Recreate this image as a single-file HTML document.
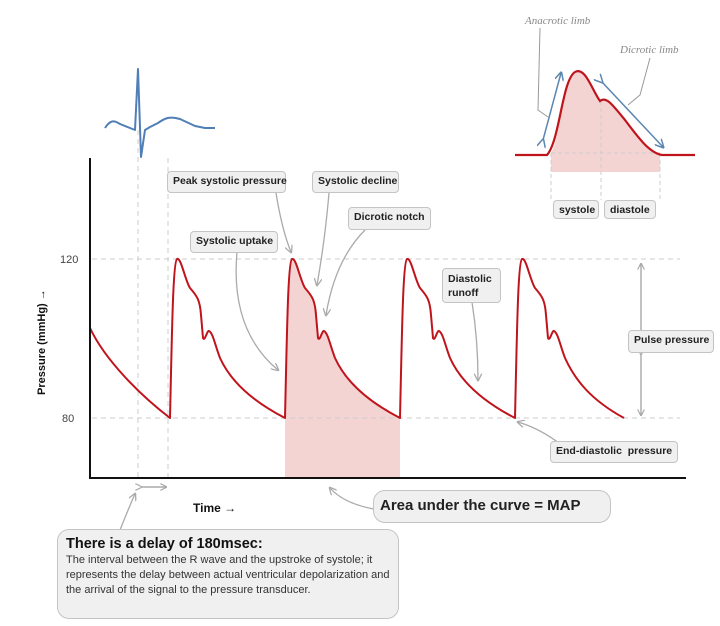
<!DOCTYPE html>
<html><head><meta charset="utf-8"><style>
body{margin:0;background:#fff;width:720px;height:626px;overflow:hidden;font-family:"Liberation Sans",sans-serif}
.b{position:absolute;background:#f0f0f0;border:1.5px solid #c4c4c4;border-radius:4px;font-size:10.5px;font-weight:bold;color:#222;padding:3px 5px;box-sizing:border-box;white-space:nowrap}
</style></head><body>
<svg width="720" height="626" style="position:absolute;left:0;top:0" font-family="Liberation Sans">
<defs><marker id="a" markerWidth="6" markerHeight="6" refX="5" refY="3" orient="auto"><path d="M0,0L6,3L0,6" fill="none" stroke="#aaa"/></marker>
<marker id="bb" markerWidth="6" markerHeight="6" refX="5" refY="3" orient="auto"><path d="M0,0L6,3L0,6" fill="none" stroke="#5b86b0"/></marker></defs>
<path d="M285,418 c2,-88 3,-156 7,-159 c4,-2 8,21 13,29 c7,8 10,12 11,27 l2,23 c2,4 4,-8 6,-7 c4,2 6,14 11,27 c10,22 30,42 65,60 L400,478 L285,478Z" fill="#f4d3d3"/>
<g stroke="#ccc" stroke-dasharray="5,4" fill="none">
<line x1="92" y1="259" x2="680" y2="259"/><line x1="92" y1="418" x2="680" y2="418"/>
<line x1="138" y1="130" x2="138" y2="478"/><line x1="168" y1="158" x2="168" y2="478"/>
</g>
<path d="M90,328 C105,360 140,395 170,418
c2,-88 3,-156 7,-159 c4,-2 8,21 13,29 c7,8 10,12 11,27 l2,23 c2,4 4,-8 6,-7 c4,2 6,14 11,27 c10,22 30,42 65,60
c2,-88 3,-156 7,-159 c4,-2 8,21 13,29 c7,8 10,12 11,27 l2,23 c2,4 4,-8 6,-7 c4,2 6,14 11,27 c10,22 30,42 65,60
c2,-88 3,-156 7,-159 c4,-2 8,21 13,29 c7,8 10,12 11,27 l2,23 c2,4 4,-8 6,-7 c4,2 6,14 11,27 c10,22 30,42 65,60
c2,-88 3,-156 7,-159 c4,-2 8,21 13,29 c7,8 10,12 11,27 l2,23 c2,4 4,-8 6,-7 c4,2 6,14 11,27 c10,22 26,42 59,60" fill="none" stroke="#c0141c" stroke-width="2" stroke-linejoin="round"/>
<line x1="90" y1="158" x2="90" y2="479" stroke="#111" stroke-width="2"/>
<line x1="89" y1="478" x2="686" y2="478" stroke="#111" stroke-width="2"/>
<text x="60" y="263" font-size="11" fill="#444">120</text><text x="62" y="422" font-size="11" fill="#444">80</text>
<text transform="translate(45,395) rotate(-90)" font-size="11" font-weight="bold" fill="#111">Pressure (mmHg) →</text>
<text x="193" y="512" font-size="12" font-weight="bold" fill="#111">Time →</text>
<g stroke="#aaa" stroke-width="1.3" fill="none" marker-end="url(#a)">
<path d="M276,193 Q282,230 291,252"/>
<path d="M329,193 Q325,240 317,285"/>
<path d="M365,230 Q335,260 326,315"/>
<path d="M237,252 Q230,330 278,370"/>
<path d="M472,302 Q478,340 478,380"/>
<path d="M570,452 Q545,430 518,422"/>
<path d="M380,510 Q345,505 330,488"/>
<path d="M120,530 Q130,505 135,494"/>
</g>
<g stroke="#999" stroke-width="1.2" marker-end="url(#a)" marker-start="url(#a)"><line x1="641" y1="338" x2="641" y2="264"/><line x1="641" y1="354" x2="641" y2="415"/><line x1="141" y1="487" x2="166" y2="487"/></g>
<path d="M105,128 C110,120 114,120 120,124 L130,128 L135,130 L138,69 L141,157 L145,130 L150,127 L158,123 C165,118 170,116 180,119 L195,126 L205,128 L215,128" fill="none" stroke="#4f7fb5" stroke-width="2" stroke-linejoin="round"/>
<path d="M551,153 C560,140 562,80 575,72 C585,66 592,90 600,101 C606,96 612,104 625,120 C640,140 650,153 660,153 L660,172 L551,172Z" fill="#f4d3d3"/>
<g stroke="#ccc" stroke-dasharray="4,3"><line x1="551" y1="153" x2="551" y2="200"/><line x1="601" y1="101" x2="601" y2="200"/><line x1="660" y1="153" x2="660" y2="200"/><line x1="551" y1="153" x2="660" y2="153"/></g>
<path d="M515,155 L547,155 C560,140 562,80 575,72 C585,66 592,90 600,101 C606,96 612,104 625,120 C640,140 650,153 662,155 L695,155" fill="none" stroke="#c0141c" stroke-width="2.2"/>
<g stroke="#5b86b0" stroke-width="1.5" marker-end="url(#bb)" marker-start="url(#bb)"><line x1="543" y1="140" x2="561" y2="73"/><line x1="602" y1="82" x2="663" y2="147"/></g>
<path d="M540,28 L538,110 L548,117" fill="none" stroke="#999"/><path d="M650,58 L640,95 L628,105" fill="none" stroke="#999"/>
<text x="525" y="24" font-size="11" font-style="italic" font-family="Liberation Serif" fill="#888">Anacrotic limb</text>
<text x="620" y="53" font-size="11" font-style="italic" font-family="Liberation Serif" fill="#888">Dicrotic limb</text>
</svg>
<div class="b" style="left:553px;top:200px;width:46px;height:19px">systole</div>
<div class="b" style="left:604px;top:200px;width:52px;height:19px">diastole</div>
<div class="b" style="left:167px;top:171px;width:119px;height:22px">Peak systolic pressure</div>
<div class="b" style="left:312px;top:171px;width:87px;height:22px">Systolic decline</div>
<div class="b" style="left:348px;top:207px;width:83px;height:23px">Dicrotic notch</div>
<div class="b" style="left:190px;top:231px;width:88px;height:22px">Systolic uptake</div>
<div class="b" style="left:442px;top:268px;width:59px;height:35px;white-space:normal;line-height:14px">Diastolic runoff</div>
<div class="b" style="left:628px;top:330px;width:86px;height:23px">Pulse pressure</div>
<div class="b" style="left:550px;top:441px;width:128px;height:22px">End-diastolic&nbsp; pressure</div>
<div class="b" style="left:373px;top:490px;width:238px;height:33px;border-radius:12px;font-size:15px;padding:6px 6px">Area under the curve = MAP</div>
<div class="b" style="left:57px;top:529px;width:342px;height:90px;border-radius:12px;font-weight:normal;white-space:normal;padding:6px 8px;font-size:11px;line-height:15px;color:#333"><div style="font-weight:bold;font-size:14.5px;color:#111;line-height:17px">There is a delay of 180msec:</div>The interval between the R wave and the upstroke of systole; it represents the delay between actual ventricular depolarization and the arrival of the signal to the pressure transducer.</div>
</body></html>
